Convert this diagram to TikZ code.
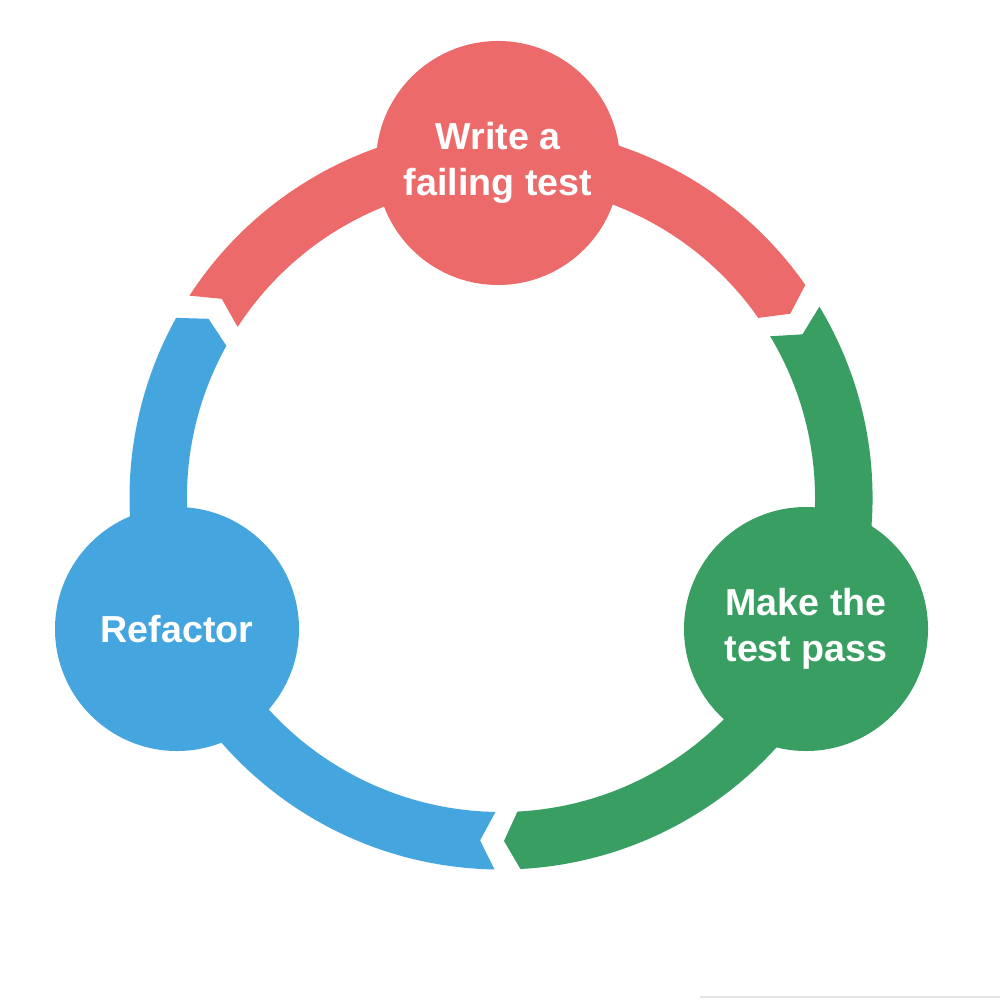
\documentclass[tikz,border=0pt]{standalone}
\usepackage{fontspec}
\setmainfont{Liberation Sans}
\definecolor{myred}{RGB}{236, 106, 106}
\definecolor{mygreen}{RGB}{56, 158, 98}
\definecolor{myblue}{RGB}{69, 166, 223}

\begin{document}
\begin{tikzpicture}[
	stage/.style={circle, inner sep=0pt, minimum size=2.44cm, align=center, text=white,
		font=\fontsize{10.7}{13.1}\selectfont\bfseries}
	]
	\useasboundingbox (-5.01,-5.01) rectangle (4.99,4.98);
	
	\fill[myred] (147:3.715) arc[start angle=147, end angle=35, radius=3.715] -- (32.5:3.43)
		-- (35:3.14) arc[start angle=35, end angle=147, radius=3.14] -- (144.5:3.43) -- cycle;
	\fill[mygreen] (31:3.715) arc[start angle=31, end angle=-87, radius=3.715] -- (-89.5:3.43)
		-- (-87:3.14) arc[start angle=-87, end angle=31, radius=3.14] -- (28.5:3.43) -- cycle;
	\fill[myblue] (-91:3.715) arc[start angle=-91, end angle=-209, radius=3.715] -- (-211.5:3.43)
		-- (-209:3.14) arc[start angle=-209, end angle=-91, radius=3.14] -- (-93.5:3.43) -- cycle;
	
	\node[stage, fill=myred] (write) at (-0.03,3.35) {Write a\\failing test};
	\node[stage, fill=mygreen] (pass) at (3.05,-1.31) {Make the\\test pass};
	\node[stage, fill=myblue] (refactor) at (-3.24,-1.31) {Refactor};
	
	\draw[black!10, line width=0.6pt] (1.99,-4.99) -- (4.99,-4.99);
\end{tikzpicture}
\end{document}
